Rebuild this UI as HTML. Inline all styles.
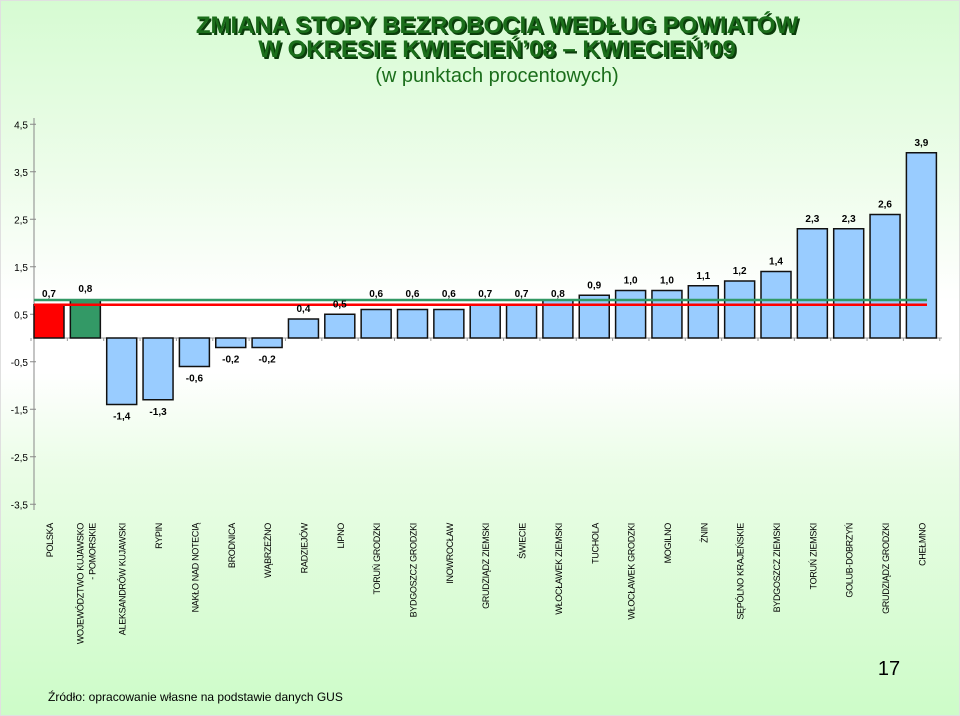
<!DOCTYPE html>
<html><head><meta charset="utf-8">
<style>
html,body{margin:0;padding:0;width:960px;height:716px;overflow:hidden}
body{background:linear-gradient(to bottom,#d6fbd2 0%,#eefdeb 25%,#ffffff 42%,#ffffff 52%,#eafde6 66%,#cdfcc8 100%);font-family:"Liberation Sans",sans-serif}
svg{display:block}
</style></head>
<body>
<svg id="chart" width="960" height="716" xmlns="http://www.w3.org/2000/svg">
  <rect x="0.5" y="0.5" width="959" height="715" fill="none" stroke="#e0e0e0"/>
  <g font-family="'Liberation Sans Narrow','Liberation Sans',sans-serif" font-weight="bold" font-size="24" text-anchor="middle">
    <text x="499" y="35" fill="#0a3d0a">ZMIANA STOPY BEZROBOCIA WEDŁUG POWIATÓW</text>
    <text x="497" y="33" fill="#1b6e1b">ZMIANA STOPY BEZROBOCIA WEDŁUG POWIATÓW</text>
    <text x="499" y="59" fill="#0a3d0a">W OKRESIE KWIECIEŃ’08 – KWIECIEŃ’09</text>
    <text x="497" y="57" fill="#1b6e1b">W OKRESIE KWIECIEŃ’08 – KWIECIEŃ’09</text>
  </g>
  <text x="497" y="82" text-anchor="middle" font-size="20" fill="#1b6e1b" font-family="'Liberation Sans Narrow','Liberation Sans',sans-serif">(w punktach procentowych)</text>
  <g id="plot"></g>
  <text x="48" y="701" font-size="12" fill="#000">Źródło: opracowanie własne na podstawie danych GUS</text>
  <text x="889" y="675" text-anchor="middle" font-size="20" fill="#000">17</text>
</svg>
<script>
const categories = ["POLSKA","WOJEWÓDZTWO KUJAWSKO|- POMORSKIE","ALEKSANDRÓW KUJAWSKI","RYPIN","NAKŁO NAD NOTECIĄ","BRODNICA","WĄBRZEŹNO","RADZIEJÓW","LIPNO","TORUŃ GRODZKI","BYDGOSZCZ GRODZKI","INOWROCŁAW","GRUDZIĄDZ ZIEMSKI","ŚWIECIE","WŁOCŁAWEK ZIEMSKI","TUCHOLA","WŁOCŁAWEK GRODZKI","MOGILNO","ŻNIN","SĘPÓLNO KRAJEŃSKIE","BYDGOSZCZ ZIEMSKI","TORUŃ ZIEMSKI","GOLUB-DOBRZYŃ","GRUDZIĄDZ GRODZKI","CHEŁMNO"];
const values = [0.7,0.8,-1.4,-1.3,-0.6,-0.2,-0.2,0.4,0.5,0.6,0.6,0.6,0.7,0.7,0.8,0.9,1.0,1.0,1.1,1.2,1.4,2.3,2.3,2.6,3.9];
const tickValues = [4.5,3.5,2.5,1.5,0.5,-0.5,-1.5,-2.5,-3.5];
const polandLevel = 0.7;
const regionLevel = 0.8;

const NS="http://www.w3.org/2000/svg";
const plot=document.getElementById('plot');
const axisX=34, zeroY=338, unit=47.5, step=36.35, barW=30, firstX=34, endX=942;
const y=v=>zeroY - v*unit;
const xc=i=>firstX + barW/2 + i*step;
const fmt=v=>v.toFixed(1).replace('.',',');
function mk(tag,attrs){const e=document.createElementNS(NS,tag);for(const k in attrs)e.setAttribute(k,attrs[k]);plot.appendChild(e);return e;}

// y axis
const ax=mk('line',{x1:axisX,y1:118,x2:axisX,y2:510,stroke:'#888','stroke-width':1});


tickValues.forEach(t=>{
  const tk=mk('line',{x1:axisX-4,y1:y(t),x2:axisX+2,y2:y(t),stroke:'#888'});
  
  
  const tl=mk('text',{x:axisX-6,y:y(t)+4,'text-anchor':'end','font-size':10,fill:'#000'});
  tl.textContent=fmt(t);
  
  
});
// zero axis
const zx=mk('line',{x1:axisX,y1:zeroY,x2:endX,y2:zeroY,stroke:'#999','stroke-width':1});


for(let i=0;i<=categories.length;i++){
  const tx=firstX+i*step-3;
  const t=mk('line',{x1:tx,y1:zeroY,x2:tx,y2:zeroY+3,stroke:'#999'});
  
  
}
// bars
values.forEach((v,i)=>{
  const x=xc(i)-barW/2;
  const top=Math.min(y(v),zeroY), h=Math.abs(y(v)-zeroY);
  const fill=i===0?'#ff0000':(i===1?'#339966':'#99ccff');
  const b=mk('rect',{x:x,y:top,width:barW,height:h,fill:fill,stroke:'#111','stroke-width':1.5});
  
  
});
// reference lines
const gl=mk('line',{x1:axisX,y1:y(regionLevel),x2:927,y2:y(regionLevel),stroke:'#339966','stroke-width':2.5});


const rl=mk('line',{x1:axisX,y1:y(polandLevel),x2:927,y2:y(polandLevel),stroke:'#ff0000','stroke-width':2.5});


// value labels
values.forEach((v,i)=>{
  let ly;
  if(v>=0){ly=y(v)-7; if(ly>290 && ly<304) ly=297; if(i<2) ly=y(v)-8;}
  else ly=y(v)+15;
  const t=mk('text',{x:xc(i),y:ly,'text-anchor':'middle','font-size':10,'font-weight':'bold',fill:'#000'});
  t.textContent=fmt(v);
  
  
});
// category labels
categories.forEach((c,i)=>{
  const parts=c.split('|');
  parts.forEach((p,j)=>{
    const lx=xc(i)+4+j*12 - (parts.length>1?6:0);
    const t=mk('text',{x:lx,y:523,'text-anchor':'end','font-size':9,fill:'#000',
      'font-family':"'Liberation Sans Narrow','Liberation Sans',sans-serif",
      transform:`rotate(-90 ${lx} 523)`,'letter-spacing':'-0.3'});
    t.textContent=p;
    
    
  });
});
</script>
</body></html>
